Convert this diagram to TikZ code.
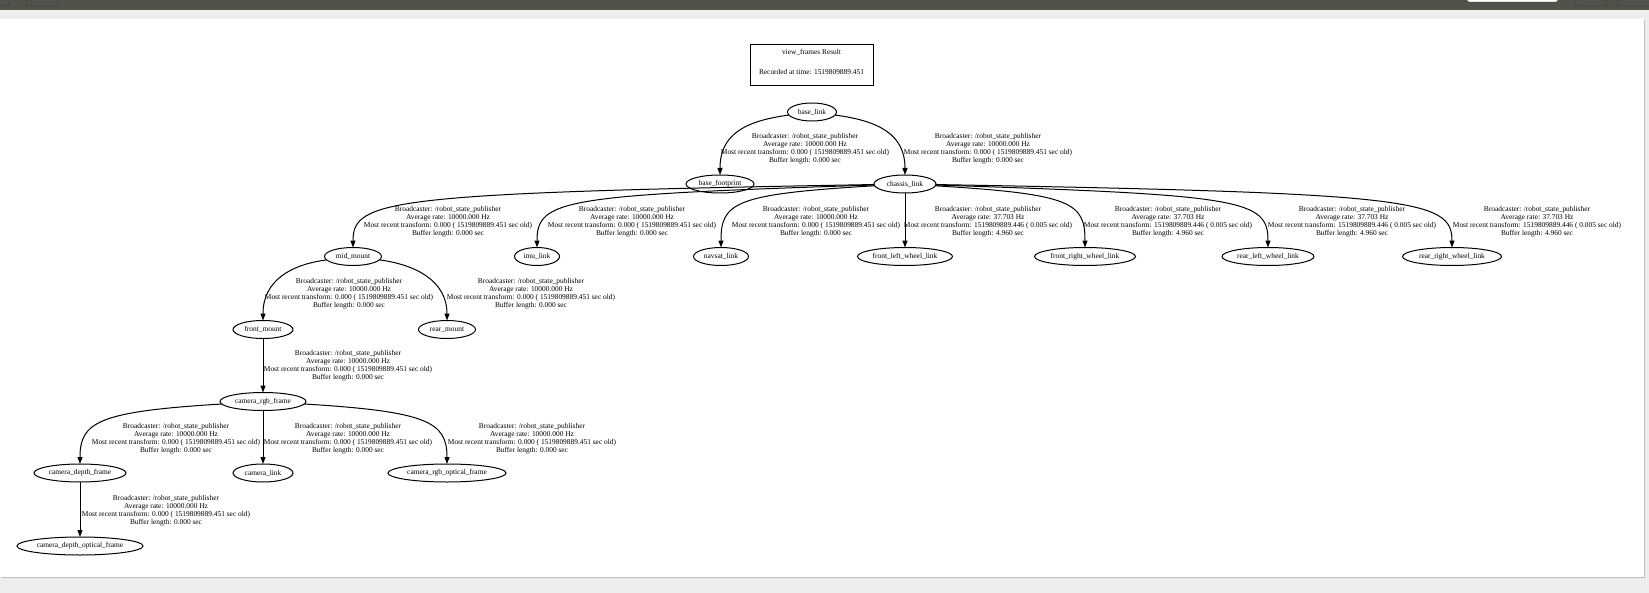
\documentclass[tikz,border=0pt]{standalone}
\usepackage{fontspec}
\setmainfont{Liberation Serif}
\usetikzlibrary{arrows.meta,shapes.geometric}
\definecolor{barcol}{HTML}{52514A}
\definecolor{wincol}{HTML}{EFEEEC}
\newcommand{\statictf}{Broadcaster: /robot\_state\_publisher\\Average rate: 10000.000 Hz\\Most recent transform: 0.000 ( 1519809889.451 sec old)\\Buffer length: 0.000 sec}
\newcommand{\wheeltf}{Broadcaster: /robot\_state\_publisher\\Average rate: 37.703 Hz\\Most recent transform: 1519809889.446 ( 0.005 sec old)\\Buffer length: 4.960 sec}
\begin{document}
\begin{tikzpicture}[x=1bp,y=-1bp,font=\fontsize{7.4bp}{8bp}\selectfont,
    tfframe/.style={ellipse,draw,line width=1bp,inner sep=0pt,outer sep=0pt,minimum height=18bp,minimum width=#1},
    tfedge/.style={line width=1bp,-{Triangle[length=7bp,width=5bp]}},
    tfinfo/.style={align=center,inner sep=0pt}]
  \useasboundingbox (0,0) rectangle (1649,593);
  \fill[wincol] (0,0) rectangle (1649,593);
  \fill[barcol] (0,0) rectangle (1649,10);
  \draw[barcol!60!black,rounded corners=2bp] (-6,-6) rectangle (9,6) (26,-6) rectangle (58,6)
    (1575,-6) rectangle (1607,6) (1617,-6) rectangle (1655,6);
  \draw[barcol!60!black,fill=white,rounded corners=1.5bp] (1467,-6) rectangle (1558,2);
  \fill[black!25] (1,20) rectangle (1645,578);
  \fill[white] (0,19) rectangle (1644,577);

  \node[draw,line width=1bp,minimum width=123bp,minimum height=41bp,align=center,inner sep=0pt] (title) at (811.5,65.5)
    {view\_frames Result\\[12bp]Recorded at time: 1519809889.451\\\mbox{}};

  \node[tfframe=49bp] (base) at (812,112) {base\_link};
  \node[tfframe=68bp] (footprint) at (720,184) {base\_footprint};
  \node[tfframe=62bp] (chassis) at (905,184) {chassis\_link};
  \node[tfframe=57bp] (mid) at (353,256.5) {mid\_mount};
  \node[tfframe=45bp] (imu) at (537,256.5) {imu\_link};
  \node[tfframe=55bp] (navsat) at (721,256.5) {navsat\_link};
  \node[tfframe=95bp] (fl) at (905,256.5) {front\_left\_wheel\_link};
  \node[tfframe=101bp] (fr) at (1085,256.5) {front\_right\_wheel\_link};
  \node[tfframe=92bp] (rl) at (1268,256.5) {rear\_left\_wheel\_link};
  \node[tfframe=99bp] (rr) at (1452,256.5) {rear\_right\_wheel\_link};
  \node[tfframe=60bp] (frontmount) at (263,329.5) {front\_mount};
  \node[tfframe=57bp] (rearmount) at (447,329.5) {rear\_mount};
  \node[tfframe=86bp] (rgb) at (263,401.5) {camera\_rgb\_frame};
  \node[tfframe=92bp] (depth) at (80,473) {camera\_depth\_frame};
  \node[tfframe=60bp] (camlink) at (263,473) {camera\_link};
  \node[tfframe=118bp] (rgbopt) at (447,473) {camera\_rgb\_optical\_frame};
  \node[tfframe=126bp] (depthopt) at (80,546) {camera\_depth\_optical\_frame};

  \draw[tfedge] (base) .. controls +(-68,9) and +(0,-40) .. (footprint.north);
  \draw[tfedge] (base) .. controls +(68,9) and +(0,-40) .. (chassis.north);
  \draw[tfedge] (chassis) .. controls +(-515,9) and +(0,-48) .. (mid.north);
  \draw[tfedge] (chassis) .. controls +(-342,11) and +(0,-48) .. (imu.north);
  \draw[tfedge] (chassis) .. controls +(-171,10) and +(0,-45) .. (navsat.north);
  \draw[tfedge] (chassis) -- (fl);
  \draw[tfedge] (chassis) .. controls +(167,10) and +(0,-45) .. (fr.north);
  \draw[tfedge] (chassis) .. controls +(338,11) and +(0,-48) .. (rl.north);
  \draw[tfedge] (chassis) .. controls +(509,9) and +(0,-48) .. (rr.north);
  \draw[tfedge] (mid) .. controls +(-62,8) and +(0,-40) .. (frontmount.north);
  \draw[tfedge] (mid) .. controls +(62,8) and +(0,-40) .. (rearmount.north);
  \draw[tfedge] (frontmount) -- (rgb);
  \draw[tfedge] (rgb) .. controls +(-165,10) and +(0,-42) .. (depth.north);
  \draw[tfedge] (rgb) -- (camlink);
  \draw[tfedge] (rgb) .. controls +(165,10) and +(0,-42) .. (rgbopt.north);
  \draw[tfedge] (depth) -- (depthopt);

  \node[tfinfo] (i-footprint) at (805,149) {\statictf};
  \node[tfinfo] (i-chassis) at (988,149) {\statictf};
  \node[tfinfo] (i-mid) at (448,222) {\statictf};
  \node[tfinfo] (i-imu) at (632,222) {\statictf};
  \node[tfinfo] (i-navsat) at (816,222) {\statictf};
  \node[tfinfo] (i-fl) at (988,222) {\wheeltf};
  \node[tfinfo] (i-fr) at (1168,222) {\wheeltf};
  \node[tfinfo] (i-rl) at (1352,222) {\wheeltf};
  \node[tfinfo] (i-rr) at (1537,222) {\wheeltf};
  \node[tfinfo] (i-frontmount) at (349,294) {\statictf};
  \node[tfinfo] (i-rearmount) at (531,294) {\statictf};
  \node[tfinfo] (i-rgb) at (348,366) {\statictf};
  \node[tfinfo] (i-depth) at (176,438.5) {\statictf};
  \node[tfinfo] (i-camlink) at (348,438.5) {\statictf};
  \node[tfinfo] (i-rgbopt) at (532,438.5) {\statictf};
  \node[tfinfo] (i-depthopt) at (166,510.5) {\statictf};
\end{tikzpicture}
\end{document}
